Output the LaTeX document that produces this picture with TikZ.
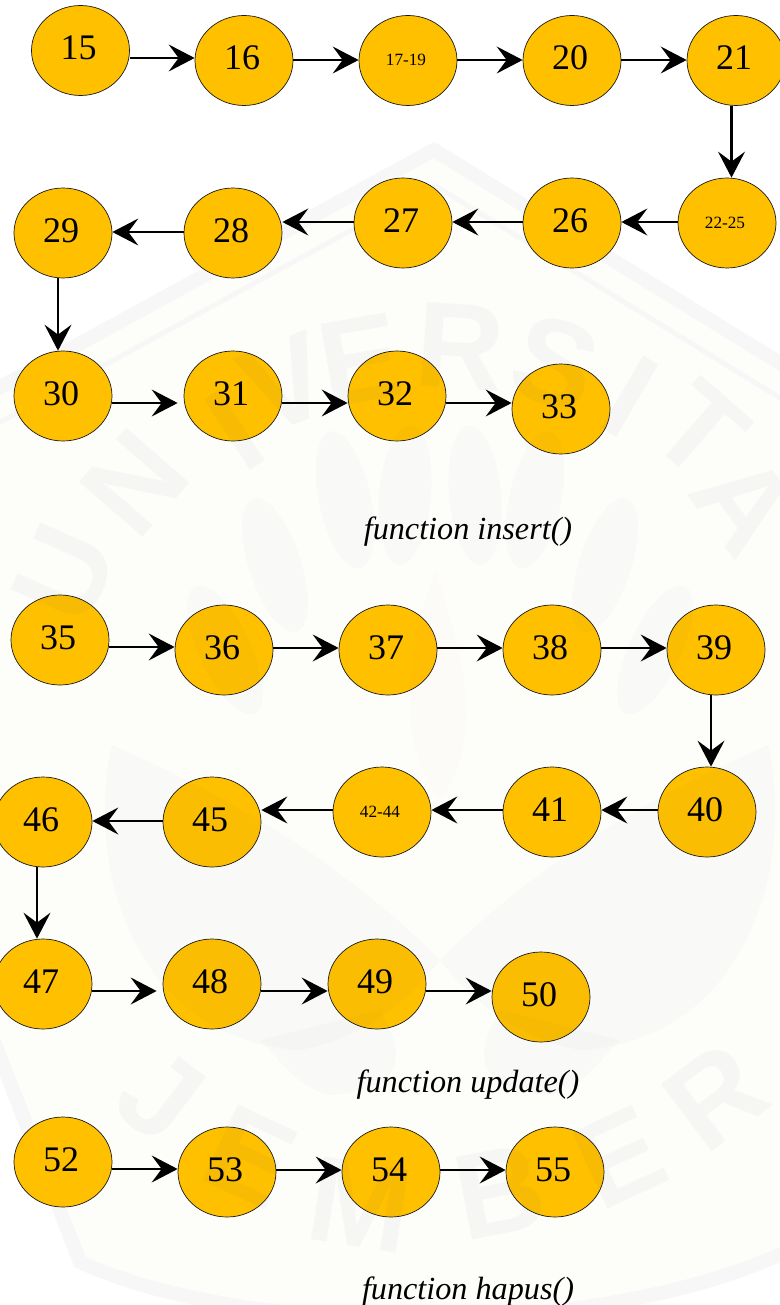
\documentclass[tikz,border=0pt]{standalone}
\usepackage{fontspec}
\setmainfont{Liberation Serif}
\newfontfamily\wmfont{Liberation Sans}
\usetikzlibrary{shapes.geometric,arrows.meta}
\definecolor{nodefill}{HTML}{FFC000}
\definecolor{sealcream}{HTML}{FDFEFA}
\definecolor{sealband}{HTML}{F7F7F7}
\definecolor{wmink}{HTML}{2A3560}
\tikzset{
  x=1pt,y=-1pt,
  cnode/.style={ellipse,draw=black!90,line width=0.7pt,fill=nodefill,minimum width=98pt,minimum height=90pt,inner sep=0pt,font=\fontsize{36}{36}\selectfont,text height=24pt,text depth=5.5pt,execute at end node=\kern4pt},
  snode/.style={cnode,font=\fontsize{17.2}{17.2}\selectfont,text height=11pt,text depth=0pt,execute at end node=\kern0pt},
  arr/.style={line width=2.5pt,-{Stealth[length=26pt,width=27pt,inset=10pt]}},
  shortarr/.style={arr,shorten >=6pt},
  captxt/.style={font=\fontsize{32.2}{32.2}\selectfont\itshape,inner sep=0pt},
  wmletter/.style={font=\wmfont\bfseries\fontsize{122}{122}\selectfont,text=wmink,text opacity=0.03,inner sep=0pt},
  wmshape/.style={fill=wmink,fill opacity=0.016,draw=none}
}
\begin{document}
\begin{tikzpicture}
\useasboundingbox (0,0) rectangle (779,1305);
\fill[white] (0,0) rectangle (779,1305);
% faint seal behind the drawing
\path[fill=sealcream,draw=sealband,line width=14pt,line join=miter]
  (434,150) -- (-60,420) -- (-60,900) -- (0,1057) -- (80,1262)
  .. controls (250,1340) and (600,1340) .. (790,1250) -- (840,1000) -- (840,400) -- cycle;
\path[draw=sealband,line width=5pt]
  (434,185) -- (-60,455);
\path[draw=sealband,line width=5pt]
  (434,185) -- (840,435);
% insert
\node[cnode] (n15) at (80.5,50.5) {15};
\node[cnode] (n16) at (244,60.5) {16};
\node[snode] (n17) at (408,60.5) {17-19};
\node[cnode] (n20) at (572,60.5) {20};
\node[cnode] (n21) at (736,60.5) {21};
\node[snode] (n22) at (727,223) {22-25};
\node[cnode] (n26) at (572,223) {26};
\node[cnode] (n27) at (403,223) {27};
\node[cnode] (n28) at (233,233) {28};
\node[cnode] (n29) at (63,233) {29};
\node[cnode] (n30) at (63,396) {30};
\node[cnode] (n31) at (233,396) {31};
\node[cnode] (n32) at (397,396) {32};
\node[cnode] (n33) at (561,409) {33};
\node[captxt] (c1) at (468,532) {function insert()};
% update
\node[cnode] (n35) at (60,640) {35};
\node[cnode] (n36) at (224,650) {36};
\node[cnode] (n37) at (388,650) {37};
\node[cnode] (n38) at (552,650) {38};
\node[cnode] (n39) at (716,650) {39};
\node[cnode] (n40) at (707,812) {40};
\node[cnode] (n41) at (552,812) {41};
\node[snode] (n42) at (382,812) {42-44};
\node[cnode] (n45) at (212,822) {45};
\node[cnode] (n46) at (43,822) {46};
\node[cnode] (n47) at (43,984) {47};
\node[cnode] (n48) at (212,984) {48};
\node[cnode] (n49) at (377,984) {49};
\node[cnode] (n50) at (541,997) {50};
\node[captxt] (c2) at (468,1085) {function update()};
% hapus
\node[cnode] (n52) at (63,1162) {52};
\node[cnode] (n53) at (227,1172) {53};
\node[cnode] (n54) at (391,1172) {54};
\node[cnode] (n55) at (555,1172) {55};
\node[captxt] (c3) at (468,1292) {function hapus()};
% connectors
\newcommand{\hconn}[4][arr]{\draw[#1] ([yshift=#4pt]#2.center -| #2.east) -- ([yshift=#4pt]#2.center -| #3.west);}
\newcommand{\hconnl}[3]{\draw[arr] ([yshift=#3pt]#1.center -| #1.west) -- ([yshift=#3pt]#1.center -| #2.east);}
\newcommand{\vconn}[3]{\draw[arr] ([xshift=#3pt]#1.south) -- ([xshift=#3pt]#1.south |- #2.north);}
\hconn{n15}{n16}{-7.5}
\hconn{n16}{n17}{0.5}
\hconn{n17}{n20}{0.5}
\hconn{n20}{n21}{0.5}
\vconn{n21}{n22}{-4.5}
\hconnl{n22}{n26}{1}
\hconnl{n26}{n27}{1}
\hconnl{n27}{n28}{1}
\hconnl{n28}{n29}{1}
\vconn{n29}{n30}{-5}
\hconn[shortarr]{n30}{n31}{-7}
\hconn{n31}{n32}{-7}
\hconn{n32}{n33}{-7}
\hconn{n35}{n36}{-7}
\hconn{n36}{n37}{2}
\hconn{n37}{n38}{2}
\hconn{n38}{n39}{2}
\vconn{n39}{n40}{-5}
\hconnl{n40}{n41}{2}
\hconnl{n41}{n42}{2}
\hconnl{n42}{n45}{2}
\hconnl{n45}{n46}{1}
\vconn{n46}{n47}{-6}
\hconn[shortarr]{n47}{n48}{-7}
\hconn{n48}{n49}{-7}
\hconn{n49}{n50}{-7}
\hconn{n52}{n53}{-7}
\hconn{n53}{n54}{2}
\hconn{n54}{n55}{2}
% faint watermark over the drawing
\foreach \ch/\px/\py/\rot/\nm in {U/65/573/66/a,N/135/483/49/b,I/235/430/33/c,V/285/383/22/d,E/360/360/10/e,R/460/347/-4/f,S/555/363/-18/g,I/630/397/-30/h,T/700/430/-41/i,A/745/503/-54/j,J/160/1096/-37/k,E/250/1157/-25/l,M/360/1205/-9/m,B/500/1192/11/o,E/620/1157/25/p,R/715/1096/37/q}
  \node[wmletter,rotate=\rot] (w\nm) at (\px,\py) {\ch};
\fill[wmshape] (440,960) .. controls (320,840) and (190,780) .. (112,745) .. controls (85,860) and (130,1040) .. (300,1050) .. controls (360,1040) and (410,1000) .. (440,960) -- cycle;
\fill[wmshape] (440,960) .. controls (560,840) and (690,780) .. (768,745) .. controls (795,860) and (750,1040) .. (580,1050) .. controls (520,1040) and (470,1000) .. (440,960) -- cycle;
\fill[wmshape] (380,1010) .. controls (410,1060) and (400,1090) .. (330,1095) .. controls (300,1090) and (280,1060) .. (260,1040) -- cycle;
\fill[wmshape] (500,1010) .. controls (470,1060) and (480,1090) .. (550,1095) .. controls (580,1090) and (600,1060) .. (620,1040) -- cycle;
\foreach \ex/\ey/\er in {345/500/12,405/495/-5,475/495/5,535/500/-12,275/565/18,605/565/-18,225/650/25,655/650/-25}
  \fill[wmshape,rotate around={\er:(\ex,\ey)}] (\ex,\ey) ellipse [x radius=26pt,y radius=70pt];
\fill[red!60,fill opacity=0.02] (435,570) .. controls (405,660) and (395,740) .. (440,800) .. controls (485,740) and (465,660) .. (435,570) -- cycle;
\end{tikzpicture}
\end{document}
